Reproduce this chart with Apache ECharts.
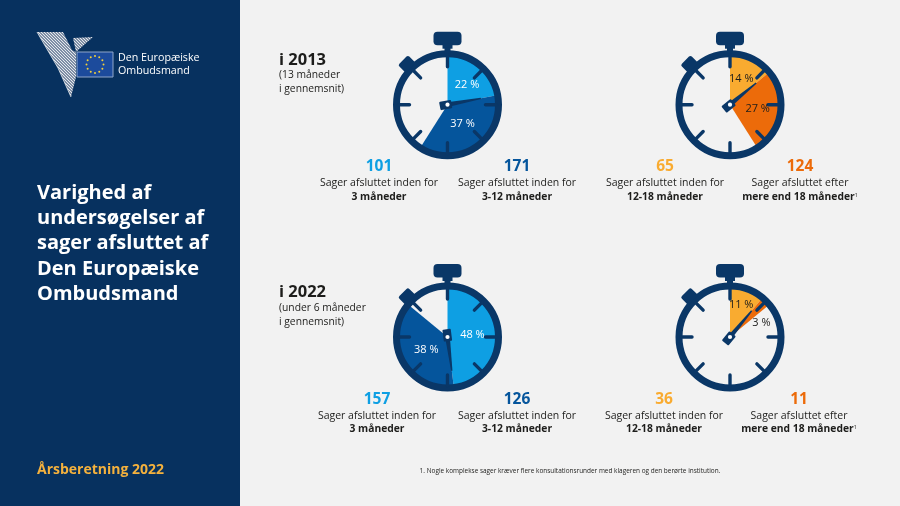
<!DOCTYPE html>
<html lang="da">
<head>
<meta charset="utf-8">
<title>Varighed af undersøgelser</title>
<style>
html,body{margin:0;padding:0;background:#f2f2f2}
#chart{width:900px;height:506px}
</style>
<script src="https://cdn.jsdelivr.net/npm/echarts@6/dist/echarts.min.js"></script>
</head>
<body>
<div id="chart"></div>
<script>
// Stated percentages per stopwatch
const shares2013Short = [22, 37];
const shares2013Long = [14, 27];
const shares2022Short = [48, 38];
const shares2022Long = [11, 3];

// Case counts under each stopwatch
const counts2013 = ['101', '171', '65', '124'];
const counts2022 = ['157', '126', '36', '11'];

// Captions, shared by both rows
const captionLines = ['Sager afsluttet inden for', 'Sager afsluttet inden for', 'Sager afsluttet inden for', 'Sager afsluttet efter'];
const captionBold = ['3 måneder', '3-12 måneder', '12-18 måneder', 'mere end 18 måneder'];

const yearLabels = ['i 2013', 'i 2022'];
const yearNotes = [['(13 måneder', 'i gennemsnit)'], ['(under 6 måneder', 'i gennemsnit)']];
const titleLines = ['Varighed af', 'undersøgelser af', 'sager afsluttet af', 'Den Europæiske', 'Ombudsmand'];
const reportLabel = 'Årsberetning 2022';
const logoLines = ['Den Europæiske', 'Ombudsmand'];
const footnote = '1. Nogle komplekse sager kræver flere konsultationsrunder med klageren og den berørte institution.';

// Palette
const NAVY = '#0a3767', PANEL = '#07315f', PAGE = '#f2f2f2', INK = '#1d1d1b';
const SKY = '#0e9fe3', BLUE = '#05559c', AMBER = '#f9ab30', ORANGE = '#ec6b0a';
const FONT = '"Open Sans", "Noto Sans", sans-serif';

// Stopwatch placement and slice settings
const watches = [
  { center: [447.5, 104.7], shares: shares2013Short, colors: [SKY, BLUE], text: ['#fff', '#fff'], nudge: [[1.7, 2.2], [-0.7, -4]] },
  { center: [730, 104.7], shares: shares2013Long, colors: [AMBER, ORANGE], text: [INK, INK], nudge: [[-0.7, -0.8], [0, 0]] },
  { center: [447.5, 337], shares: shares2022Short, colors: [SKY, BLUE], text: ['#fff', '#fff'], nudge: [[-3, 0], [3.3, -1]] },
  { center: [730, 337], shares: shares2022Long, colors: [AMBER, ORANGE], text: [INK, INK], nudge: [[1.7, -6], [11.6, 5.4]] }
];

// Coloured slices sit under the dial; a clear copy above it carries the percentages
const slicePies = watches.map(w => ({
  type: 'pie', z: 2, silent: true, animation: false,
  startAngle: 90, clockwise: true, center: w.center, radius: [0, 50],
  label: { show: false }, labelLine: { show: false },
  data: w.shares.map((v, i) => ({ value: v, itemStyle: { color: w.colors[i] } }))
    .concat([{ value: 100 - w.shares[0] - w.shares[1], itemStyle: { color: 'transparent' } }])
}));
const labelPies = watches.map(w => ({
  type: 'pie', z: 30, silent: true, animation: false,
  startAngle: 90, clockwise: true, center: w.center, radius: [0, 50],
  avoidLabelOverlap: false, labelLine: { show: false },
  itemStyle: { color: 'transparent' },
  data: w.shares.map((v, i) => ({
    value: v,
    label: {
      show: true, position: 'inside', formatter: v + ' %',
      fontFamily: FONT, fontSize: 11, color: w.text[i], offset: w.nudge[i]
    }
  })).concat([{ value: 100 - w.shares[0] - w.shares[1], label: { show: false } }])
}));

// Dial, crown, ticks and hand of a stopwatch; the hand follows the first share
function stopwatch(w) {
  const parts = [];
  const line = (r0, r1, deg, width) => ({
    type: 'line',
    rotation: -deg * Math.PI / 180,
    z: 10,
    shape: { x1: 0, y1: -r0, x2: 0, y2: -r1 },
    style: { stroke: NAVY, lineWidth: width, lineCap: 'round' }
  });
  parts.push({ type: 'circle', z: 10, shape: { r: 51 }, style: { fill: 'none', stroke: NAVY, lineWidth: 7 } });
  parts.push({ type: 'rect', z: 10, shape: { x: -14, y: -73, width: 28, height: 13.5, r: 4 }, style: { fill: NAVY } });
  parts.push({ type: 'rect', z: 10, shape: { x: -5, y: -61, width: 10, height: 5 }, style: { fill: NAVY } });
  parts.push({ type: 'rect', z: 10, shape: { x: -3, y: -57, width: 6, height: 6 }, style: { fill: NAVY } });
  for (let a = 0; a < 360; a += 45) parts.push(line(38, 49, a, 3.4));
  parts.push({
    type: 'rect', z: 10, rotation: Math.PI / 4,
    shape: { x: -7, y: -63, width: 14, height: 11, r: 2 },
    style: { fill: NAVY }
  });
  const handDeg = w.shares[0] * 3.6;
  parts.push({
    type: 'polygon', z: 10, rotation: -handDeg * Math.PI / 180,
    shape: { points: [[-2.4, 0], [2.4, 0], [0.7, -34], [-0.7, -34]] },
    style: { fill: NAVY }
  });
  parts.push({
    type: 'rect', z: 10, rotation: -handDeg * Math.PI / 180,
    shape: { x: -4.2, y: -4.2, width: 8.4, height: 12, r: 1 },
    style: { fill: NAVY }
  });
  parts.push({ type: 'circle', z: 11, shape: { r: 2.1 }, style: { fill: '#fff' } });
  return { type: 'group', x: w.center[0], y: w.center[1], children: parts };
}

// Plain text helper for the graphic layer
const label = (x, y, text, size, weight, color, align) => ({
  type: 'text', z: 20, x, y,
  style: { text, fontFamily: FONT, fontSize: size, fontWeight: weight, fill: color, align: align || 'left', verticalAlign: 'middle' }
});

const graphics = [];

// Side panel
graphics.push({ type: 'rect', z: 0, shape: { x: 0, y: 0, width: 240, height: 506 }, style: { fill: PANEL } });
titleLines.forEach((t, i) => graphics.push(label(37, 193 + i * 25.3, t, 20, 700, '#fff')));
graphics.push(label(37, 470, reportLabel, 14, 700, '#f4b13d'));

// Emblem: hatched bird wings and flag
const hatch = document.createElement('canvas');
hatch.width = hatch.height = 3;
const hctx = hatch.getContext('2d');
hctx.fillStyle = '#7f8fa6';
hctx.fillRect(0, 0, 3, 3);
hctx.strokeStyle = '#e6e9ee';
hctx.lineWidth = 1;
hctx.beginPath();
hctx.moveTo(0, 0);
hctx.lineTo(3, 3);
hctx.stroke();
const hatchFill = { image: hatch, repeat: 'repeat' };
graphics.push({ type: 'polygon', z: 1, shape: { points: [[37, 32], [63, 32], [72, 50], [76, 52], [76, 77], [71, 97], [58, 68]] }, style: { fill: hatchFill } });
graphics.push({ type: 'polygon', z: 1, shape: { points: [[73, 38], [93, 37], [76, 52]] }, style: { fill: hatchFill } });
graphics.push({ type: 'polyline', z: 1, shape: { points: [[37, 32], [58, 68], [71, 97]] }, style: { stroke: '#dfe4ea', lineWidth: 0.8, fill: 'none' } });
graphics.push({ type: 'rect', z: 2, shape: { x: 77, y: 52, width: 36, height: 25 }, style: { fill: '#1c4b9c', stroke: '#8fa6c9', lineWidth: 1 } });
for (let s = 0; s < 12; s++) {
  const t = s * Math.PI / 6;
  graphics.push({ type: 'circle', z: 3, shape: { cx: 95 + 8.5 * Math.sin(t), cy: 64.5 - 8.5 * Math.cos(t), r: 1 }, style: { fill: '#f2cf3c' } });
}
logoLines.forEach((t, i) => graphics.push(label(118, 58 + i * 13, t, 10.7, 500, '#fff')));

// Stopwatches
watches.forEach(w => graphics.push(stopwatch(w)));

// Year headings
[60, 292].forEach((y, i) => {
  graphics.push(label(279, y, yearLabels[i], 16.5, 700, INK));
  const gap = i === 0 ? 15.5 : 16.5;
  yearNotes[i].forEach((t, j) => graphics.push(label(279, y + gap + j * 14, t, 10.3, 400, INK)));
});

// Counts and captions under the stopwatches
const columnX = [[379, 517, 665, 800], [377, 517, 664, 799]];
const rowY = [167, 399.5];
const countColors = [SKY, BLUE, AMBER, ORANGE];
[counts2013, counts2022].forEach((counts, r) => {
  counts.forEach((c, i) => {
    const x = columnX[r][i], y = rowY[r];
    graphics.push(label(x, y, c, 15.5, 700, countColors[i], 'center'));
    graphics.push(label(x, y + 16.5, captionLines[i], 10.5, 400, INK, 'center'));
    if (i === 3) {
      graphics.push({
        type: 'text', z: 20, x, y: y + 30,
        style: {
          text: '{b|' + captionBold[i] + '}{s|1}',
          align: 'center', verticalAlign: 'middle',
          rich: {
            b: { fontFamily: FONT, fontSize: 10.3, fontWeight: 700, fill: INK, color: INK },
            s: { fontFamily: FONT, fontSize: 5.5, fill: INK, color: INK, verticalAlign: 'top' }
          }
        }
      });
    } else {
      graphics.push(label(x, y + 30, captionBold[i], 10.3, 700, INK, 'center'));
    }
  });
});

graphics.push(label(570, 471, footnote, 6.45, 400, INK, 'center'));

const chart = echarts.init(document.getElementById('chart'), null, { renderer: 'canvas' });
chart.setOption({
  backgroundColor: PAGE,
  animation: false,
  series: slicePies.concat(labelPies),
  graphic: { elements: graphics }
});
</script>
</body>
</html>
